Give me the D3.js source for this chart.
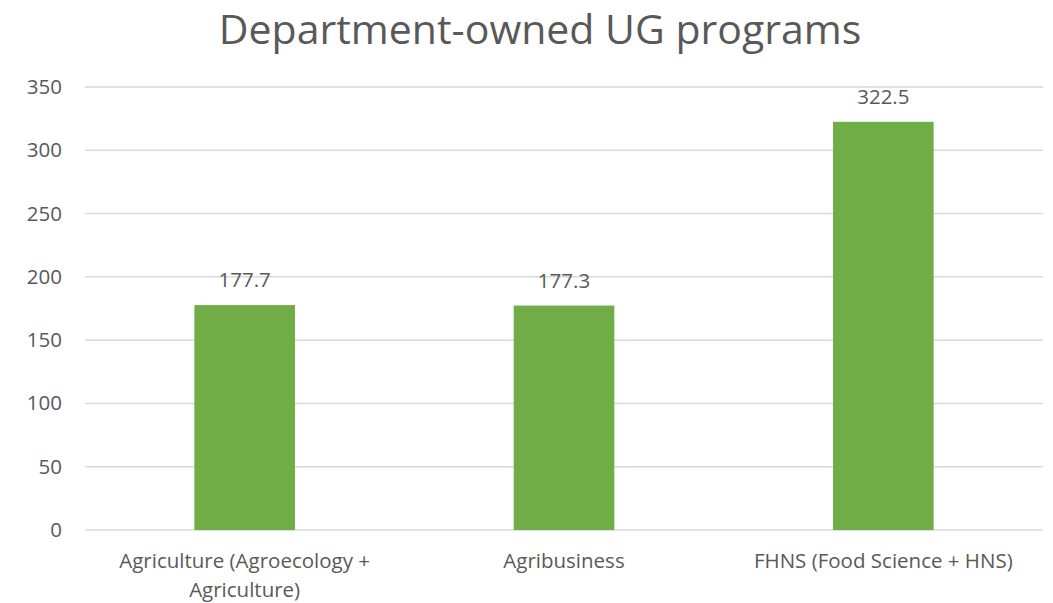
<!DOCTYPE html>
<html>
<head>
<meta charset="utf-8">
<script src="https://cdn.jsdelivr.net/npm/d3@7"></script>
<style>
  body { margin: 0; background: #fff; }
  text { font-family: "Open Sans", sans-serif; fill: #595959; }
</style>
</head>
<body>
<div id="chart"></div>
<script>
const categories = [['Agriculture (Agroecology +', 'Agriculture)'], ['Agribusiness'], ['FHNS (Food Science + HNS)']];
const values = [177.7, 177.3, 322.5];
const yTicks = [0, 50, 100, 150, 200, 250, 300, 350];
const title = 'Department-owned UG programs';

const w = 1053;
const h = 603;
const margin = { top: 87, right: 10, bottom: 73, left: 85 };

const svg = d3.select('#chart').append('svg').attr('width', w).attr('height', h);

svg.append('text')
   .attr('x', 540)
   .attr('y', 44)
   .attr('text-anchor', 'middle')
   .style('font-size', '41px')
   .text(title);

const xScale = d3.scaleBand()
                 .domain(d3.range(values.length))
                 .range([margin.left, w - margin.right])
                 .paddingInner(0.685)
                 .paddingOuter(0.3425);

const yScale = d3.scaleLinear()
                 .domain([0, 350])
                 .range([h - margin.bottom, margin.top]);

// gridlines
svg.append('g')
   .selectAll('line')
   .data(yTicks)
   .enter()
   .append('line')
   .attr('x1', margin.left)
   .attr('x2', w - margin.right)
   .attr('y1', d => yScale(d))
   .attr('y2', d => yScale(d))
   .attr('stroke', '#d9d9d9')
   .attr('stroke-width', 1.5);

const yAxis = d3.axisLeft(yScale).tickValues(yTicks).tickSize(0).tickPadding(23);
const yG = svg.append('g').attr('transform', `translate(${margin.left}, 0)`).call(yAxis);
yG.select('.domain').remove();
yG.selectAll('text').style('font-size', '20.5px').attr('fill', '#595959').style('font-family', '"Open Sans", sans-serif');

svg.selectAll('rect.bar')
   .data(values)
   .enter()
   .append('rect')
   .attr('class', 'bar')
   .attr('x', (d, i) => xScale(i))
   .attr('y', d => yScale(d))
   .attr('width', xScale.bandwidth())
   .attr('height', d => yScale(0) - yScale(d))
   .attr('fill', '#70ad47');

svg.selectAll('text.lbl')
   .data(values)
   .enter()
   .append('text')
   .attr('class', 'lbl')
   .attr('x', (d, i) => xScale(i) + xScale.bandwidth() / 2)
   .attr('y', d => yScale(d) - 18)
   .attr('text-anchor', 'middle')
   .style('font-size', '20.5px')
   .text(d => d.toFixed(1));

// category labels
const catG = svg.selectAll('text.cat')
   .data(categories)
   .enter()
   .append('text')
   .attr('class', 'cat')
   .attr('text-anchor', 'middle')
   .style('font-size', '20.5px');

catG.each(function(lines, i) {
    const cx = xScale(i) + xScale.bandwidth() / 2;
    d3.select(this).selectAll('tspan')
      .data(lines)
      .enter()
      .append('tspan')
      .attr('x', cx)
      .attr('y', (d, j) => yScale(0) + 38 + j * 29)
      .text(d => d);
});
</script>
</body>
</html>
